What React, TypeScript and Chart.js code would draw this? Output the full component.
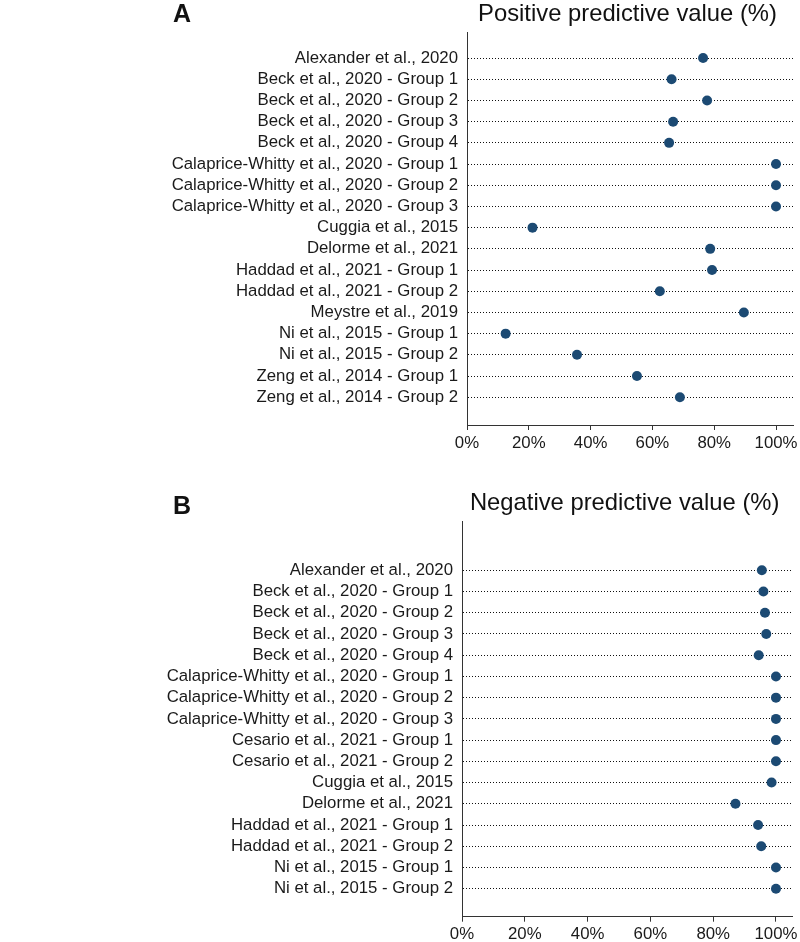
import React, { useEffect, useRef } from "react";
import { Chart, registerables } from "chart.js";

Chart.register(...registerables);

const ppvStudies = [
  "Alexander et al., 2020",
  "Beck et al., 2020 - Group 1",
  "Beck et al., 2020 - Group 2",
  "Beck et al., 2020 - Group 3",
  "Beck et al., 2020 - Group 4",
  "Calaprice-Whitty et al., 2020 - Group 1",
  "Calaprice-Whitty et al., 2020 - Group 2",
  "Calaprice-Whitty et al., 2020 - Group 3",
  "Cuggia et al., 2015",
  "Delorme et al., 2021",
  "Haddad et al., 2021 - Group 1",
  "Haddad et al., 2021 - Group 2",
  "Meystre et al., 2019",
  "Ni et al., 2015 - Group 1",
  "Ni et al., 2015 - Group 2",
  "Zeng et al., 2014 - Group 1",
  "Zeng et al., 2014 - Group 2",
];
const ppvValues = [76.4, 66.2, 77.7, 66.7, 65.4, 100, 100, 100, 21.2, 78.7, 79.3, 62.4, 89.6, 12.5, 35.6, 55.0, 68.9];

const npvStudies = [
  "Alexander et al., 2020",
  "Beck et al., 2020 - Group 1",
  "Beck et al., 2020 - Group 2",
  "Beck et al., 2020 - Group 3",
  "Beck et al., 2020 - Group 4",
  "Calaprice-Whitty et al., 2020 - Group 1",
  "Calaprice-Whitty et al., 2020 - Group 2",
  "Calaprice-Whitty et al., 2020 - Group 3",
  "Cesario et al., 2021 - Group 1",
  "Cesario et al., 2021 - Group 2",
  "Cuggia et al., 2015",
  "Delorme et al., 2021",
  "Haddad et al., 2021 - Group 1",
  "Haddad et al., 2021 - Group 2",
  "Ni et al., 2015 - Group 1",
  "Ni et al., 2015 - Group 2",
];
const npvValues = [95.5, 96.0, 96.5, 96.9, 94.5, 100, 100, 100, 100, 100, 98.6, 87.1, 94.3, 95.3, 100, 100];

const xTickValues = [0, 20, 40, 60, 80, 100];

const FONT = '"Liberation Sans", Arial, Helvetica, sans-serif';
const DOT = "#1c4a73";

const panelTextPlugin = {
  id: "panelText",
  afterDraw(chart: any, _args: any, opts: any) {
    const { ctx, chartArea } = chart;
    ctx.save();
    ctx.fillStyle = "#111";
    ctx.textAlign = "center";
    ctx.textBaseline = "middle";
    ctx.font = `bold 25px ${FONT}`;
    ctx.fillText(opts.letter, opts.letterX, opts.letterY);
    ctx.font = `23.8px ${FONT}`;
    ctx.fillText(opts.title, (chartArea.left + chartArea.right) / 2 - 2.5, opts.titleY);
    ctx.restore();
  },
};

type PanelProps = {
  letter: string;
  title: string;
  labels: string[];
  values: number[];
  top: number;
  padTop: number;
  padRight: number;
  axisLeft: number;
  xAxisHeight: number;
  xMax: number;
  yMin: number;
  yMax: number;
  letterY: number;
  titleY: number;
};

function Panel(p: PanelProps) {
  const ref = useRef<HTMLCanvasElement | null>(null);
  useEffect(() => {
    if (!ref.current) return;
    const chart = new Chart(ref.current, {
      type: "scatter",
      data: {
        datasets: [
          {
            data: p.values.map((v, i) => ({ x: v, y: i })),
            pointRadius: 5,
            pointHoverRadius: 5,
            pointBackgroundColor: DOT,
            pointBorderColor: DOT,
            pointBorderWidth: 0,
            showLine: false,
          },
        ],
      },
      options: {
        responsive: false,
        animation: false,
        layout: { padding: { top: p.padTop, right: p.padRight, left: 0, bottom: 0 } },
        plugins: {
          legend: { display: false },
          tooltip: { enabled: false },
          panelText: { letter: p.letter, title: p.title, letterX: 182, letterY: p.letterY, titleY: p.titleY },
        } as any,
        scales: {
          x: {
            type: "linear",
            min: 0,
            max: p.xMax,
            afterBuildTicks: (s: any) => {
              s.ticks = xTickValues.map((v) => ({ value: v }));
            },
            afterFit: (s: any) => {
              s.height = p.xAxisHeight;
              s.paddingLeft = 0;
              s.paddingRight = 0;
            },
            ticks: {
              callback: (v: any) => `${v}%`,
              font: { size: 16.8, family: FONT },
              color: "#1a1a1a",
              padding: 3,
              maxRotation: 0,
              autoSkip: false,
            },
            grid: {
              drawOnChartArea: false,
              drawTicks: true,
              tickLength: 5,
              tickColor: "#333",
              lineWidth: 1,
            },
            border: { display: true, color: "#333", width: 1 },
          },
          y: {
            type: "linear",
            reverse: true,
            min: p.yMin,
            max: p.yMax,
            afterBuildTicks: (s: any) => {
              s.ticks = p.labels.map((_, i) => ({ value: i }));
            },
            afterFit: (s: any) => {
              s.width = p.axisLeft;
              s.paddingTop = 0;
              s.paddingBottom = 0;
            },
            ticks: {
              callback: (v: any) => p.labels[v] ?? "",
              font: { size: 16.8, family: FONT },
              color: "#1a1a1a",
              padding: 9,
              autoSkip: false,
            },
            grid: {
              drawTicks: false,
              color: "#111",
              lineWidth: 1,
            },
            border: { display: true, color: "#333", width: 1, dash: [1, 2] },
          },
        },
      } as any,
      plugins: [panelTextPlugin],
    });
    return () => chart.destroy();
  }, []);
  return (
    <canvas
      ref={ref}
      width={800}
      height={471}
      style={{ position: "absolute", left: 0, top: p.top, width: 800, height: 471, display: "block" }}
    />
  );
}

export default function App() {
  return (
    <div style={{ position: "absolute", left: 0, top: 0, width: 800, height: 942, background: "#fff" }}>
      <Panel
        letter="A"
        title="Positive predictive value (%)"
        labels={ppvStudies}
        values={ppvValues}
        top={0}
        padTop={32}
        padRight={7}
        axisLeft={467}
        xAxisHeight={46}
        xMax={105.5}
        yMin={-1.23}
        yMax={17.31}
        letterY={15}
        titleY={14}
      />
      <Panel
        letter="B"
        title="Negative predictive value (%)"
        labels={npvStudies}
        values={npvValues}
        top={471}
        padTop={50.7}
        padRight={7.7}
        axisLeft={462}
        xAxisHeight={25.3}
        xMax={105.2}
        yMin={-2.29}
        yMax={16.32}
        letterY={36.5}
        titleY={32}
      />
    </div>
  );
}
